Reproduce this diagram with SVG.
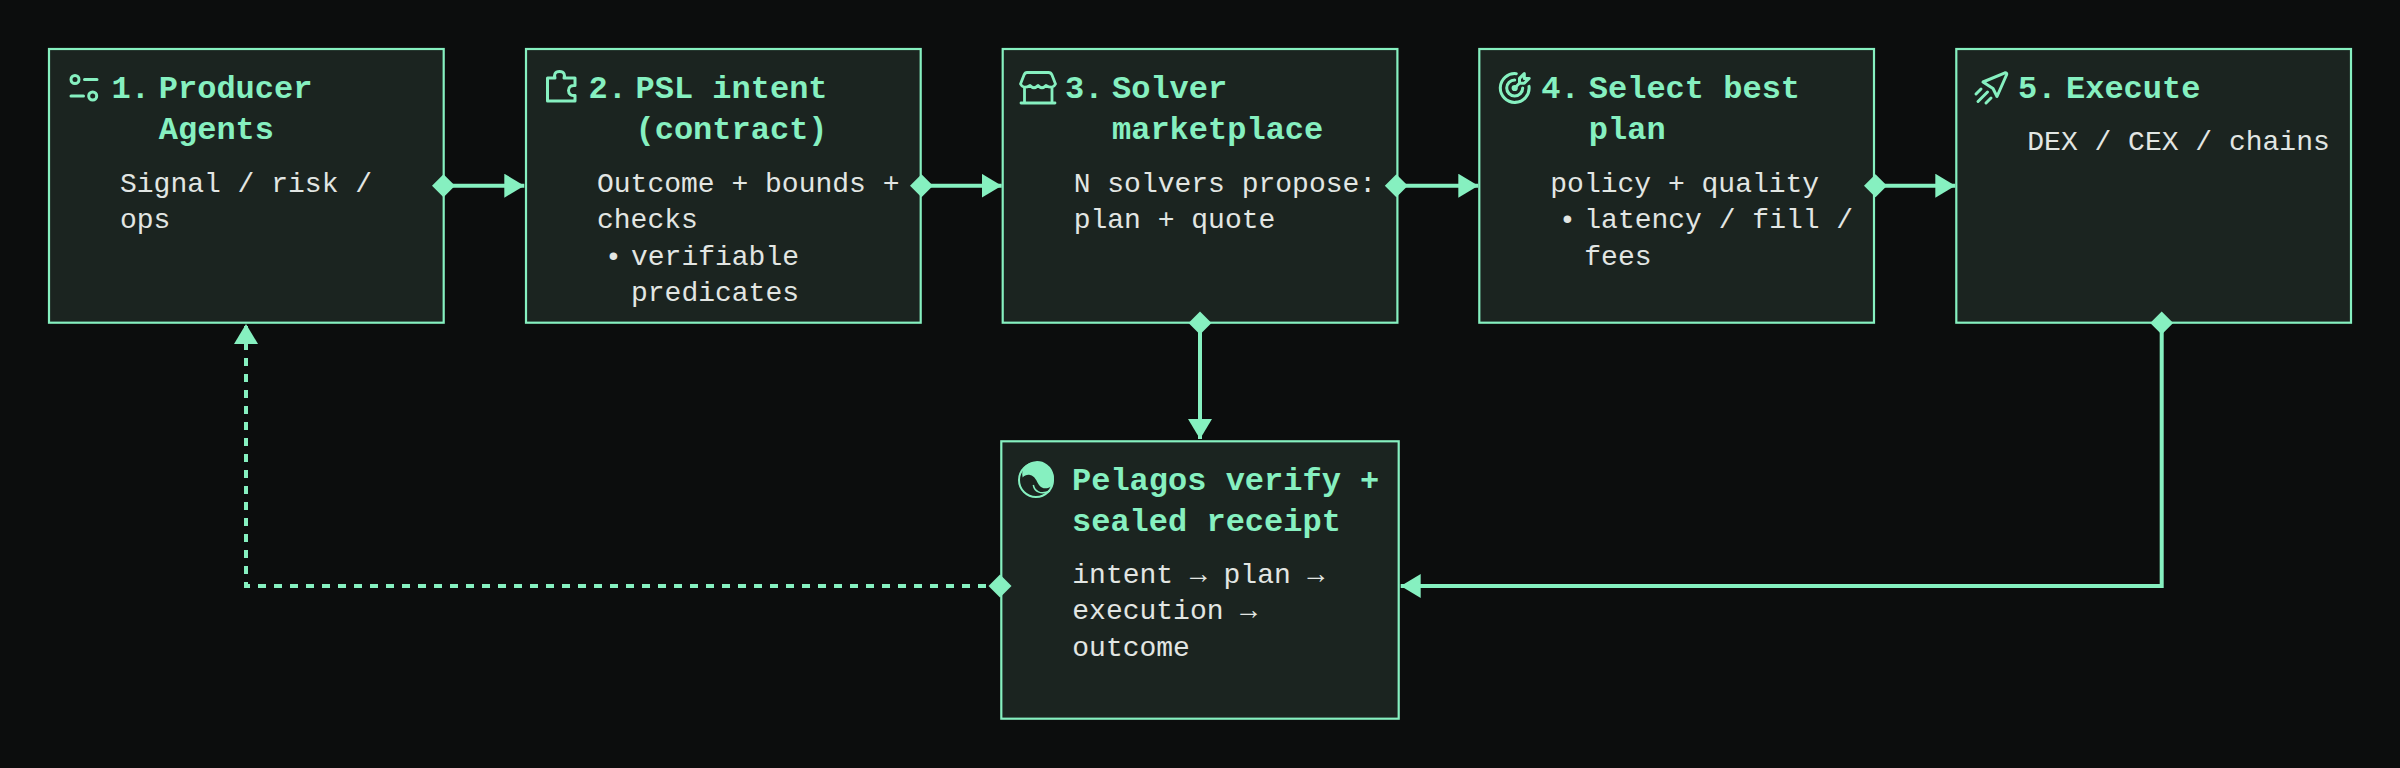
<svg xmlns="http://www.w3.org/2000/svg" width="2400" height="768" viewBox="0 0 2400 768">
<style>
.box{fill:#1b2420;stroke:#86f0c0;stroke-width:2.200}
.t{font-family:"Liberation Mono","DejaVu Sans Mono",monospace;font-weight:700;font-size:32px;fill:#86f0c0}
.b{font-family:"Liberation Mono","DejaVu Sans Mono",monospace;font-size:28px;fill:#e2e6e3}
.i{fill:none;stroke:#86f0c0;stroke-width:3;stroke-linecap:round;stroke-linejoin:round}
.c{fill:none;stroke:#86f0c0;stroke-width:4}
</style>
<defs>
<marker id="arrow" markerUnits="userSpaceOnUse" markerWidth="22" markerHeight="26" refX="20" refY="12" orient="auto"><path d="M0 0L20 12L0 24Z" fill="#86f0c0"/></marker>
<marker id="dia" markerUnits="userSpaceOnUse" markerWidth="26" markerHeight="26" refX="13" refY="13" orient="auto"><path d="M13 1.500L24.500 13L13 24.500L1.500 13Z" fill="#86f0c0"/></marker>
</defs>
<rect width="2400" height="768" fill="#0c0d0d"/>
<g id="node-1">
<rect class="box" x="49" y="49" width="394.700" height="273.700"/>
<g class="i"><path d="M84.500 79.500H97M71 96H83.500"/><circle cx="75" cy="79.500" r="4"/><circle cx="92.700" cy="96" r="4"/></g>
<text class="t" x="111.500" y="97.500">1.</text><text class="t" x="158.800" y="97.500">Producer</text><text class="t" x="158.800" y="139">Agents</text>
<text class="b" x="120" y="191.700">Signal / risk /</text><text class="b" x="120" y="228">ops</text>
</g>
<g id="node-2">
<rect class="box" x="526" y="49" width="394.700" height="273.700"/>
<path class="i" d="M547.500 101V78H555c-1-3-.5-6.500 4.500-6.500s5.500 3.500 4.500 6.500H575V85.500c-3-.5-6.500 1-6.500 5s3.500 5.500 6.500 5V101Z"/>
<text class="t" x="588.500" y="97.500">2.</text><text class="t" x="635.500" y="97.500">PSL intent</text><text class="t" x="635.500" y="139">(contract)</text>
<text class="b" x="597" y="191.700">Outcome + bounds +</text><text class="b" x="597" y="228">checks</text>
<text class="b" x="605" y="264.500">•</text><text class="b" x="631" y="264.500">verifiable</text><text class="b" x="631" y="300.800">predicates</text>
</g>
<g id="node-3">
<rect class="box" x="1002.700" y="49" width="394.700" height="273.700"/>
<path class="i" d="M1020.500 84L1024 75Q1025 72.500 1027 72.500H1048.500Q1051 72.500 1052 75L1055.500 84Q1053 89.500 1046 85.500Q1042 90 1038 85.500Q1034 90 1030 85.500Q1023 89.500 1020.500 84ZM1024.500 88V103M1052 88V103M1021 103H1055" style="stroke-width:2.800"/>
<text class="t" x="1065" y="97.500">3.</text><text class="t" x="1112" y="97.500">Solver</text><text class="t" x="1112" y="139">marketplace</text>
<text class="b" x="1073.700" y="191.700">N solvers propose:</text><text class="b" x="1073.700" y="228">plan + quote</text>
</g>
<g id="node-4">
<rect class="box" x="1479.300" y="49" width="394.700" height="273.700"/>
<g class="i" transform="translate(1495.500 68.800) scale(1.6)" style="stroke-width:1.900"><circle cx="12" cy="12" r="1"/><path d="M12 7a5 5 0 1 0 5 5M13 3.055a9 9 0 1 0 7.941 7.945M15 6v3h3l3-3h-3v-3zM15 9l-3 3"/></g>
<text class="t" x="1541.300" y="97.500">4.</text><text class="t" x="1588.800" y="97.500">Select best</text><text class="t" x="1588.800" y="139">plan</text>
<text class="b" x="1550.300" y="191.700">policy + quality</text>
<text class="b" x="1559" y="228">•</text><text class="b" x="1584.300" y="228">latency / fill /</text><text class="b" x="1584.300" y="264.500">fees</text>
</g>
<g id="node-5">
<rect class="box" x="1956.300" y="49" width="394.700" height="273.700"/>
<path class="i" d="M1983 82L2005 72.800c1-.3 2 .6 1.700 1.700L1997 96.500 1993 88.500ZM1976 94L1981 89M1978 101.500L1987.500 92M1986 103L1991 98"/>
<text class="t" x="2018" y="97.500">5.</text><text class="t" x="2066" y="97.500">Execute</text>
<text class="b" x="2027.300" y="150">DEX / CEX / chains</text>
</g>
<g id="node-pelagos">
<rect class="box" x="1001.300" y="441.300" width="397.400" height="277.400"/>
<circle cx="1036" cy="480" r="17" fill="none" stroke="#86f0c0" stroke-width="2"/>
<path d="M1025 466A17 17 0 0 1 1052 486C1047 489.500 1042 489 1039 485C1036.500 481 1035 476 1030 475C1027 474.500 1024.500 475.500 1022.700 477.500C1021.500 473 1022.500 469 1025 466Z" fill="#86f0c0"/>
<path d="M1033.300 485C1034.500 491 1040 495.500 1050 491" fill="none" stroke="#86f0c0" stroke-width="1.500"/>
<text class="t" x="1072" y="489.500">Pelagos verify +</text><text class="t" x="1072" y="531">sealed receipt</text>
<text class="b" x="1072.300" y="583">intent → plan →</text><text class="b" x="1072.300" y="619.300">execution →</text><text class="b" x="1072.300" y="655.700">outcome</text>
</g>
<g id="connectors">
<path class="c" d="M443.500 185.700H524.300" marker-start="url(#dia)" marker-end="url(#arrow)"/>
<path class="c" d="M921.500 185.700H1001.700" marker-start="url(#dia)" marker-end="url(#arrow)"/>
<path class="c" d="M1396.300 185.700H1478.300" marker-start="url(#dia)" marker-end="url(#arrow)"/>
<path class="c" d="M1875.500 185.700H1955.300" marker-start="url(#dia)" marker-end="url(#arrow)"/>
<path class="c" d="M1200 323V439" marker-start="url(#dia)" marker-end="url(#arrow)"/>
<path class="c" d="M2161.700 323V586H1400.700" marker-start="url(#dia)" marker-end="url(#arrow)"/>
<path class="c" d="M1002 586H246V324" stroke-dasharray="8 8" marker-end="url(#arrow)"/>
<path d="M1000 574.500L1011.500 586L1000 597.500L988.500 586Z" fill="#86f0c0"/>
</g>
</svg>
